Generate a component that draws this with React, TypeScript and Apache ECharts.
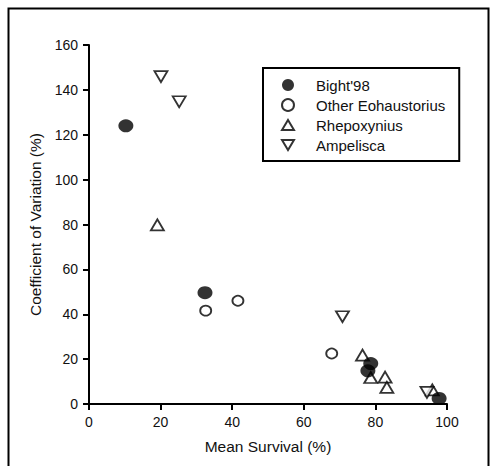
import React, { useEffect, useRef } from "react";
import * as echarts from "echarts";

const seriesNames = ["Bight'98", "Other Eohaustorius", "Rhepoxynius", "Ampelisca"];

const bightData: number[][] = [
  [10.3, 124],
  [32.4, 49.6],
  [78.7, 18],
  [77.9, 14.8],
  [97.8, 2.5],
];
const otherEohaustoriusData: number[][] = [
  [32.6, 41.6],
  [41.6, 46],
  [67.8, 22.5],
];
const rhepoxyniusData: number[][] = [
  [19.1, 79.8],
  [76.4, 21.8],
  [78.7, 11.8],
  [82.7, 12],
  [83.2, 7.4],
  [95.9, 6.3],
];
const ampeliscaData: number[][] = [
  [20.1, 145.9],
  [25.2, 134.7],
  [70.8, 38.9],
  [94.4, 5.2],
];

const xTitle = "Mean Survival (%)";
const yTitle = "Coefficient of Variation (%)";

const FONT = "'Liberation Sans', Arial, Helvetica, sans-serif";
const UP_TRI = "path://M10,0 L20,17 L0,17 Z";
const DOWN_TRI = "path://M0,0 L20,0 L10,17 Z";

export default function App() {
  const ref = useRef<HTMLDivElement>(null);
  useEffect(() => {
    if (!ref.current) return;
    const chart = echarts.init(ref.current, undefined, { renderer: "svg" });
    const openStyle = { color: "#fff", borderColor: "#000", borderWidth: 1.8 };
    chart.setOption({
      animation: false,
      backgroundColor: "#fff",
      textStyle: { fontFamily: FONT },
      graphic: [
        {
          type: "rect",
          silent: true,
          shape: { x: 8.5, y: 8.5, width: 480, height: 600 },
          style: { fill: "none", stroke: "#000", lineWidth: 2 },
          z: -1,
        },
      ],
      grid: { left: 89, right: 44, top: 45, bottom: 62 },
      xAxis: {
        type: "value",
        min: 0,
        max: 100,
        interval: 20,
        name: xTitle,
        nameLocation: "middle",
        nameGap: 34,
        nameTextStyle: { fontSize: 15.5, color: "#111", fontFamily: FONT },
        axisLine: { lineStyle: { color: "#000", width: 2 } },
        axisTick: { inside: false, length: 6, lineStyle: { color: "#000", width: 2 } },
        axisLabel: { fontSize: 14, color: "#111", margin: 11, fontFamily: FONT },
        splitLine: { show: false },
      },
      yAxis: {
        type: "value",
        min: 0,
        max: 160,
        interval: 20,
        name: yTitle,
        nameLocation: "middle",
        nameGap: 45,
        nameTextStyle: { fontSize: 15.5, color: "#111", fontFamily: FONT },
        axisLine: { show: true, lineStyle: { color: "#000", width: 2 } },
        axisTick: { show: true, inside: false, length: 6, lineStyle: { color: "#000", width: 2 } },
        axisLabel: { fontSize: 14, color: "#111", margin: 11, fontFamily: FONT },
        splitLine: { show: false },
      },
      legend: {
        orient: "vertical",
        left: 263,
        top: 68,
        padding: [8, 14, 7, 18],
        itemWidth: 12,
        itemHeight: 12,
        itemGap: 2,
        borderColor: "#000",
        borderWidth: 2,
        backgroundColor: "#fff",
        textStyle: {
          fontSize: 15,
          lineHeight: 18,
          color: "#111",
          fontFamily: FONT,
          padding: [0, 0, 0, 17],
        },
        data: [
          { name: seriesNames[0], icon: "circle" },
          { name: seriesNames[1], icon: "circle" },
          { name: seriesNames[2], icon: UP_TRI },
          { name: seriesNames[3], icon: DOWN_TRI },
        ],
      },
      series: [
        {
          name: seriesNames[1],
          type: "scatter",
          symbol: "circle",
          symbolSize: [11, 10],
          itemStyle: openStyle,
          data: otherEohaustoriusData,
          z: 2,
        },
        {
          name: seriesNames[2],
          type: "scatter",
          symbol: "triangle",
          symbolSize: [13, 11],
          itemStyle: openStyle,
          data: rhepoxyniusData,
          z: 2,
        },
        {
          name: seriesNames[3],
          type: "scatter",
          symbol: "triangle",
          symbolRotate: 180,
          symbolSize: [13, 11],
          itemStyle: openStyle,
          data: ampeliscaData,
          z: 2,
        },
        {
          name: seriesNames[0],
          type: "scatter",
          symbol: "circle",
          symbolSize: [15, 13],
          itemStyle: { color: "#000" },
          data: bightData,
          z: 3,
        },
      ],
    });
    return () => chart.dispose();
  }, []);
  return (
    <div
      ref={ref}
      style={{ position: "fixed", left: 0, top: 0, width: 491, height: 466 }}
    />
  );
}
